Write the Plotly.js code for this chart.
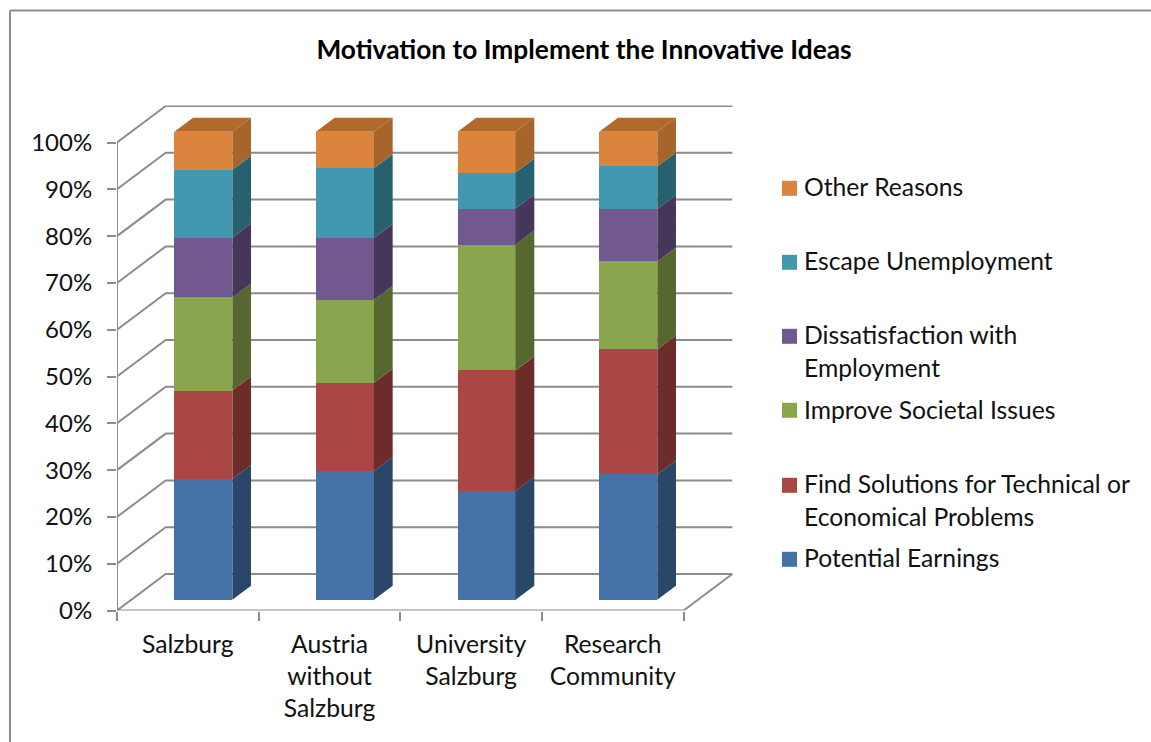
<!DOCTYPE html>
<html>
<head>
<meta charset="utf-8">
<script src="https://cdn.plot.ly/plotly-3.0.1.min.js"></script>
<style>html,body{margin:0;padding:0;background:#fff;overflow:hidden}#chart{width:1151px;height:742px}</style>
</head>
<body>
<div id="chart"></div>
<script>
const categories = ["Salzburg", "Austria<br>without<br>Salzburg", "University<br>Salzburg", "Research<br>Community"];
const potentialEarnings = [25.8, 27.5, 23.3, 26.8];
const findSolutions = [18.9, 18.9, 25.7, 26.7];
const improveSocietal = [19.9, 17.7, 26.9, 18.8];
const dissatisfaction = [12.8, 13.2, 7.7, 11.2];
const escapeUnemployment = [14.5, 14.9, 7.7, 9.1];
const otherReasons = [8.1, 7.8, 8.7, 7.4];
const percentTicks = [0, 10, 20, 30, 40, 50, 60, 70, 80, 90, 100];
const seriesNames = ["Potential Earnings", "Find Solutions for Technical or Economical Problems", "Improve Societal Issues", "Dissatisfaction with Employment", "Escape Unemployment", "Other Reasons"];
const frontColors = ["#4572A7", "#AA4643", "#89A54E", "#71588F", "#4198AF", "#DB843D"];
const sideColors = ["#2A4769", "#6B2C2A", "#566830", "#46365A", "#27606F", "#A8652B"];
const topColor = "#B2692C";

const W = 1151, H = 742;
const px = v => v / W, py = v => 1 - v / H;
const FONT = "Lato, Carlito, sans-serif";
const TXT = "#111111", GRID = "#8c8c8c";

// plot geometry: one category = 141.65 px, 10% = 46.8 px
const unitX = 141.65, unitY = 4.68;
const plotLeft = 117, plotRight = 734, plotBottom = 610.5, plotTop = 105.5;
const xMax = (plotRight - plotLeft) / unitX, yMax = (plotBottom - plotTop) / unitY;
const wallX = 48.7 / unitX, wallY = 36.5 / unitY;       // wall depth
const barShiftX = 15.5 / unitX, barShiftY = 10.7 / unitY; // bar plane inside the depth
const barDepthX = 18.7 / unitX, barDepthY = 14 / unitY;
const barWidth = 58 / unitX;
const nCat = categories.length;
const centers = categories.map((_, i) => i + 0.5);
const series = [potentialEarnings, findSolutions, improveSocietal, dissatisfaction, escapeUnemployment, otherReasons];

const traces = [];

// grid: diagonal on the side wall + horizontal on the back wall
const gx = [], gy = [];
percentTicks.forEach(v => { gx.push(0, wallX, nCat + wallX, null); gy.push(v, v + wallY, v + wallY, null); });
traces.push({type: "scatter", mode: "lines", x: gx, y: gy, line: {color: GRID, width: 2}, hoverinfo: "skip", showlegend: false});
// y axis line, x axis line and right floor edge
traces.push({type: "scatter", mode: "lines", x: [0, 0, nCat, nCat + wallX], y: [100, 0, 0, wallY], line: {color: GRID, width: 2}, hoverinfo: "skip", showlegend: false});

// front faces (real stacked bars)
series.forEach((vals, s) => traces.push({
  type: "bar", name: seriesNames[s], x: centers, y: vals, width: barWidth,
  marker: {color: frontColors[s], line: {width: 0}}, xaxis: "x2", yaxis: "y2", showlegend: false
}));

// side faces
const running = categories.map(() => 0);
series.forEach((vals, s) => {
  const sx = [], sy = [];
  vals.forEach((v, i) => {
    const e = centers[i] + barWidth / 2, b = running[i], t = b + v;
    sx.push(e, e + barDepthX, e + barDepthX, e, e, null);
    sy.push(b, b + barDepthY, t + barDepthY, t, b, null);
    running[i] = t;
  });
  traces.push({type: "scatter", mode: "lines", x: sx, y: sy, fill: "toself", fillcolor: sideColors[s],
    line: {width: 0, color: sideColors[s]}, xaxis: "x2", yaxis: "y2", hoverinfo: "skip", showlegend: false});
});
// top faces
const tx = [], ty = [];
running.forEach((t, i) => {
  const l = centers[i] - barWidth / 2, r = centers[i] + barWidth / 2;
  tx.push(l, l + barDepthX, r + barDepthX, r, l, null);
  ty.push(t, t + barDepthY, t + barDepthY, t, t, null);
});
traces.push({type: "scatter", mode: "lines", x: tx, y: ty, fill: "toself", fillcolor: topColor,
  line: {width: 0, color: topColor}, xaxis: "x2", yaxis: "y2", hoverinfo: "skip", showlegend: false});

// legend placed by hand because its slots are uneven
const legendRows = [
  {s: 5, sq: 188.3, lines: [["Other Reasons", 186.5]]},
  {s: 4, sq: 262.3, lines: [["Escape Unemployment", 260]]},
  {s: 3, sq: 336.3, lines: [["Dissatisfaction with", 334], ["Employment", 367]]},
  {s: 2, sq: 410.3, lines: [["Improve Societal Issues", 409]]},
  {s: 1, sq: 485.3, lines: [["Find Solutions for Technical or", 483], ["Economical Problems", 516]]},
  {s: 0, sq: 559.3, lines: [["Potential Earnings", 557]]}
];
const annotations = [], shapes = [];
legendRows.forEach(r => {
  shapes.push({type: "rect", xref: "paper", yref: "paper", x0: px(782), x1: px(797), y0: py(r.sq - 7.5), y1: py(r.sq + 7.5),
    fillcolor: frontColors[r.s], line: {width: 0}});
  r.lines.forEach(l => annotations.push({xref: "paper", yref: "paper", x: px(802), y: py(l[1]), text: l[0], showarrow: false,
    xanchor: "left", yanchor: "middle", font: {family: FONT, size: 24.7, color: TXT}}));
});
// chart frame: top and left edges
shapes.push({type: "line", xref: "paper", yref: "paper", x0: px(10), x1: 1, y0: py(10.5), y1: py(10.5), line: {color: GRID, width: 2}});
shapes.push({type: "line", xref: "paper", yref: "paper", x0: px(10), x1: px(10), y0: py(10.5), y1: 0, line: {color: GRID, width: 2}});

const xDomain = [px(plotLeft), px(plotRight)], yDomain = [py(plotBottom), py(plotTop)];
const layout = {
  width: W, height: H, margin: {l: 0, r: 0, t: 0, b: 0}, paper_bgcolor: "#fff", plot_bgcolor: "rgba(0,0,0,0)",
  showlegend: false, barmode: "stack", bargap: 0,
  title: {text: "<b>Motivation to Implement the Innovative Ideas</b>", x: px(584), xref: "paper", xanchor: "center",
    y: py(50), yref: "paper", yanchor: "middle", font: {family: FONT, size: 26.3, color: "#000"}},
  xaxis: {domain: xDomain, range: [0, xMax], tickmode: "array", tickvals: centers, ticktext: categories, ticks: "", showgrid: false,
    zeroline: false, showline: false, tickfont: {family: FONT, size: 24.7, color: TXT}, ticklabelstandoff: 17, tickangle: 0,
    minor: {tickmode: "array", tickvals: categories.map((_, i) => i).concat([nCat]), ticks: "outside", ticklen: 9, tickwidth: 2, tickcolor: GRID, showgrid: false}},
  yaxis: {domain: yDomain, range: [0, yMax], tickmode: "array", tickvals: percentTicks, ticktext: percentTicks.map(v => v + "%"),
    ticks: "outside", ticklen: 9, tickwidth: 2, tickcolor: GRID, showgrid: false, zeroline: false, showline: false,
    tickfont: {family: FONT, size: 24, color: TXT}, ticklabelstandoff: 10},
  xaxis2: {overlaying: "x", domain: xDomain, range: [-barShiftX, xMax - barShiftX], visible: false, anchor: "y2"},
  yaxis2: {overlaying: "y", domain: yDomain, range: [-barShiftY, yMax - barShiftY], visible: false, anchor: "x2"},
  annotations, shapes
};
Plotly.newPlot("chart", traces, layout, {displayModeBar: false, staticPlot: true});
</script>
</body>
</html>
